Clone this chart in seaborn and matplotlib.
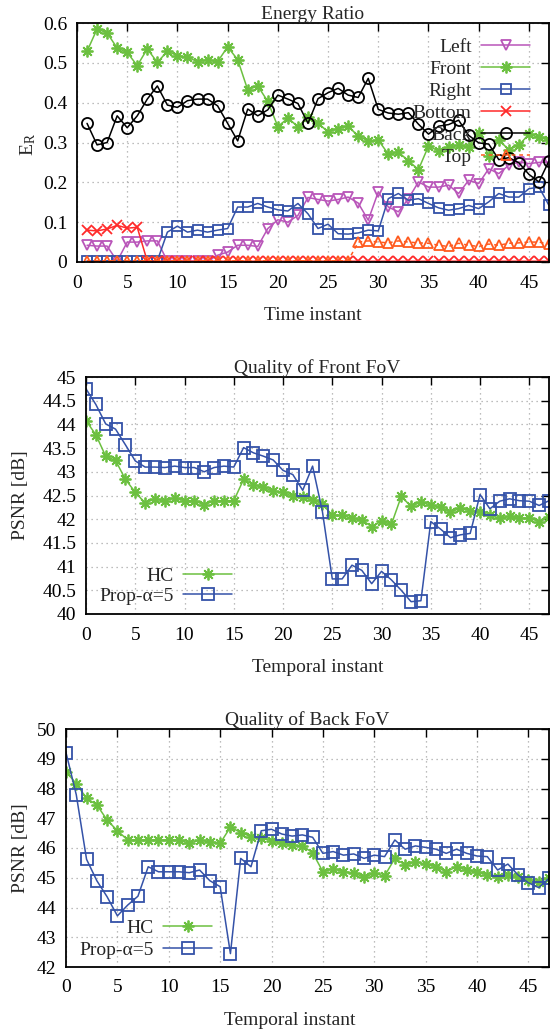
import numpy as np
import pandas as pd
import matplotlib
matplotlib.use("Agg")
import matplotlib.pyplot as plt
import seaborn as sns

# ---------------- data ----------------
t_energy = list(range(1, 48))
left = [0.042, 0.040, 0.040, 0.002, 0.050, 0.050, 0.053, 0.053, 0.002, 0.002,
        0.002, 0.002, 0.002, 0.017, 0.025, 0.042, 0.042, 0.039, 0.084, 0.106,
        0.100, 0.117, 0.162, 0.157, 0.153, 0.157, 0.163, 0.148, 0.105, 0.176,
        0.138, 0.126, 0.159, 0.201, 0.188, 0.188, 0.193, 0.172, 0.205, 0.197,
        0.234, 0.222, 0.243, 0.251, 0.247, 0.250, 0.251]
front = [0.529, 0.585, 0.575, 0.537, 0.526, 0.493, 0.535, 0.501, 0.529, 0.518,
         0.514, 0.503, 0.508, 0.503, 0.540, 0.508, 0.432, 0.442, 0.403, 0.340,
         0.361, 0.340, 0.364, 0.348, 0.327, 0.335, 0.341, 0.316, 0.304, 0.306,
         0.271, 0.276, 0.254, 0.232, 0.291, 0.279, 0.289, 0.293, 0.289, 0.324,
         0.266, 0.306, 0.282, 0.293, 0.321, 0.313, 0.307]
right = [0.003, 0.003, 0.003, 0.003, 0.003, 0.003, 0.003, 0.003, 0.075, 0.090,
         0.075, 0.080, 0.075, 0.080, 0.084, 0.138, 0.138, 0.147, 0.138, 0.131,
         0.128, 0.147, 0.121, 0.084, 0.095, 0.071, 0.070, 0.073, 0.080, 0.078,
         0.159, 0.172, 0.155, 0.159, 0.147, 0.136, 0.130, 0.134, 0.142, 0.134,
         0.151, 0.172, 0.163, 0.163, 0.184, 0.188, 0.142]
bottom = [0.080, 0.078, 0.083, 0.092, 0.085, 0.087] + [0.002] * 41
back = [0.348, 0.294, 0.300, 0.367, 0.337, 0.367, 0.409, 0.442, 0.394, 0.388,
        0.405, 0.409, 0.409, 0.392, 0.348, 0.304, 0.384, 0.367, 0.382, 0.419,
        0.409, 0.398, 0.348, 0.410, 0.425, 0.436, 0.419, 0.413, 0.461, 0.383,
        0.374, 0.371, 0.375, 0.346, 0.321, 0.341, 0.345, 0.356, 0.318, 0.299,
        0.296, 0.257, 0.262, 0.249, 0.220, 0.201, 0.254]
top = [0.003] * 27 + [0.050, 0.053, 0.050, 0.048, 0.053, 0.050, 0.048, 0.047,
                      0.042, 0.039, 0.047, 0.042, 0.039, 0.045, 0.042, 0.047,
                      0.048, 0.050, 0.050, 0.045]

t_psnr = list(range(0, 48))
front_hc = [44.08, 43.78, 43.33, 43.24, 42.84, 42.57, 42.34, 42.43, 42.39, 42.45,
            42.39, 42.39, 42.30, 42.39, 42.39, 42.39, 42.84, 42.73, 42.67, 42.59,
            42.57, 42.48, 42.46, 42.41, 42.32, 42.08, 42.08, 42.02, 41.99, 41.84,
            41.96, 41.89, 42.48, 42.27, 42.36, 42.30, 42.25, 42.15, 42.23, 42.18,
            42.16, 42.08, 42.02, 42.06, 42.02, 42.02, 41.95, 42.04]
front_prop = [44.75, 44.42, 44.01, 43.90, 43.57, 43.23, 43.10, 43.10, 43.09, 43.12,
              43.09, 43.09, 43.00, 43.09, 43.12, 43.10, 43.51, 43.40, 43.33, 43.25,
              43.03, 42.94, 42.61, 43.12, 42.16, 40.74, 40.74, 41.03, 40.92, 40.64,
              40.90, 40.72, 40.50, 40.26, 40.28, 41.95, 41.79, 41.61, 41.67, 41.70,
              42.52, 42.22, 42.38, 42.43, 42.39, 42.38, 42.29, 42.39]
back_hc = [48.57, 48.16, 47.67, 47.45, 46.94, 46.58, 46.27, 46.27, 46.27, 46.27,
           46.27, 46.27, 46.16, 46.27, 46.21, 46.16, 46.70, 46.52, 46.38, 46.33,
           46.25, 46.16, 46.10, 46.07, 45.84, 45.20, 45.31, 45.20, 45.17, 45.01,
           45.15, 45.06, 45.65, 45.43, 45.54, 45.46, 45.37, 45.20, 45.37, 45.26,
           45.20, 45.09, 45.03, 45.09, 45.03, 44.94, 44.87, 44.98]
back_prop = [49.21, 47.79, 45.62, 44.90, 44.36, 43.72, 44.08, 44.38, 45.37, 45.20,
             45.20, 45.20, 45.17, 45.26, 44.90, 44.70, 42.45, 45.65, 45.37, 46.58,
             46.63, 46.47, 46.40, 46.44, 46.36, 45.82, 45.88, 45.76, 45.80, 45.65,
             45.76, 45.71, 46.27, 45.96, 46.07, 46.02, 45.96, 45.82, 45.96, 45.82,
             45.73, 45.71, 45.26, 45.46, 45.09, 44.83, 44.67, 44.98]

energy_labels = ["Left", "Front", "Right", "Bottom", "Back", "Top"]
psnr_labels = ["HC", "Prop-\u03b1=5"]
x_ticks = list(range(0, 50, 5))

# ---------------- style ----------------
sns.set_theme(style="white")
FONT = ["Liberation Serif", "DejaVu Serif"]
plt.rcParams["font.family"] = FONT
plt.rcParams["mathtext.fontset"] = "custom"
plt.rcParams["mathtext.rm"] = "Liberation Serif"
plt.rcParams["mathtext.it"] = "Liberation Serif:italic"
FS = 14
plt.rcParams["font.size"] = FS

C_LEFT = "#b955b9"
C_FRONT = "#6cc040"
C_RIGHT = "#3452a8"
C_BOTTOM = "#ff2a2a"
C_BACK = "#000000"
C_TOP = "#ff5a1e"
MS = 7.5
LW = 1.1

W, H = 555, 1036
fig = plt.figure(figsize=(W / 100, H / 100), dpi=100)
fig.patch.set_facecolor("white")


def add_ax(l, r, t, b):
    return fig.add_axes([l / W, 1 - b / H, (r - l) / W, (b - t) / H])


def style_ax(ax):
    ax.set_facecolor("white")
    for s in ax.spines.values():
        s.set_color("black")
        s.set_linewidth(1.3)
        s.set_visible(True)
    ax.grid(True, color="#a8a8a8", linestyle=(0, (1, 3)), linewidth=0.9)
    ax.tick_params(axis="both", direction="in", length=6, width=1.0, colors="black",
                   top=True, right=True, labelsize=FS)
    ax.tick_params(axis="x", pad=9)
    ax.tick_params(axis="y", pad=7)


def line(ax, x, y, color, marker, label, ls="-", ms=MS):
    df = pd.DataFrame({"x": x, "y": y})
    sns.lineplot(data=df, x="x", y="y", ax=ax, color=color, marker=marker,
                 markersize=ms, markerfacecolor="none", markeredgecolor=color,
                 markeredgewidth=1.3, linewidth=LW, linestyle=ls, label=label)


def legend(ax, right_px, top_px, spacing):
    ax.legend(loc="upper right", bbox_to_anchor=(right_px / W, 1 - top_px / H),
              bbox_transform=fig.transFigure, frameon=False, markerfirst=False,
              fontsize=FS, handlelength=2.5, handletextpad=0.5,
              labelspacing=spacing, borderpad=0, borderaxespad=0)


# ---------------- top: energy ratio ----------------
ax1 = add_ax(77, 549, 23, 262)
star = (8, 2, 0)
line(ax1, t_energy, left, C_LEFT, "v", energy_labels[0])
line(ax1, t_energy, front, C_FRONT, star, energy_labels[1], ms=8.5)
line(ax1, t_energy, right, C_RIGHT, "s", energy_labels[2])
line(ax1, t_energy, bottom, C_BOTTOM, "x", energy_labels[3])
line(ax1, t_energy, back, C_BACK, "o", energy_labels[4], ms=8)
line(ax1, t_energy, top, C_TOP, "^", energy_labels[5], ls=(0, (2.5, 2.5)))
ax1.set_xlim(0, 47)
ax1.set_ylim(0, 0.6)
ax1.set_xticks(x_ticks)
ax1.set_yticks([0, 0.1, 0.2, 0.3, 0.4, 0.5, 0.6])
ax1.set_yticklabels(["0", "0.1", "0.2", "0.3", "0.4", "0.5", "0.6"])
style_ax(ax1)
ax1.set_title("Energy Ratio", fontsize=FS, pad=3)
ax1.set_xlabel("Time instant", fontsize=FS, labelpad=11)
ax1.set_ylabel("E$_\\mathrm{R}$", fontsize=FS)
ax1.yaxis.set_label_coords((38 - 77) / 472, 0.49)
legend(ax1, 530, 38, 0.23)

# ---------------- middle: front FoV ----------------
ax2 = add_ax(86, 549, 377, 614)
line(ax2, t_psnr, front_hc, C_FRONT, star, psnr_labels[0], ms=8.5)
line(ax2, t_psnr, front_prop, C_RIGHT, "s", psnr_labels[1], ms=8)
ax2.set_xlim(0, 47)
ax2.set_ylim(40, 45)
ax2.set_xticks(x_ticks)
yt2 = [40, 40.5, 41, 41.5, 42, 42.5, 43, 43.5, 44, 44.5, 45]
ax2.set_yticks(yt2)
ax2.set_yticklabels([f"{v:g}" for v in yt2])
style_ax(ax2)
ax2.set_title("Quality of Front FoV", fontsize=FS, pad=3)
ax2.set_xlabel("Temporal instant", fontsize=FS, labelpad=11)
ax2.set_ylabel("PSNR [dB]", fontsize=FS)
ax2.yaxis.set_label_coords((29 - 86) / 463, 0.5)
legend(ax2, 232, 567, 0.13)

# ---------------- bottom: back FoV ----------------
ax3 = add_ax(66, 549, 729, 967)
line(ax3, t_psnr, back_hc, C_FRONT, star, psnr_labels[0], ms=8.5)
line(ax3, t_psnr, back_prop, C_RIGHT, "s", psnr_labels[1], ms=8)
ax3.set_xlim(0, 47)
ax3.set_ylim(42, 50)
ax3.set_xticks(x_ticks)
ax3.set_yticks(list(range(42, 51)))
style_ax(ax3)
ax3.set_title("Quality of Back FoV", fontsize=FS, pad=3)
ax3.set_xlabel("Temporal instant", fontsize=FS, labelpad=11)
ax3.xaxis.set_label_coords((290 - 66) / 483, -0.19)
ax3.set_ylabel("PSNR [dB]", fontsize=FS)
ax3.yaxis.set_label_coords((29 - 66) / 483, 0.5)
legend(ax3, 212, 919, 0.23)

fig.savefig("out.png", dpi=100, facecolor="white")
